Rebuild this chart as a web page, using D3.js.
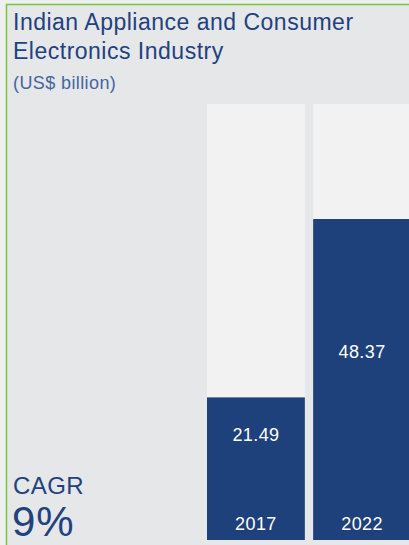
<!DOCTYPE html>
<html>
<head>
<meta charset="utf-8">
<script src="https://cdn.jsdelivr.net/npm/d3@7"></script>
<style>
  body { margin: 0; background: #eef0ef; }
  svg { display: block; font-family: "Liberation Sans", Arial, sans-serif; }
</style>
</head>
<body>
<svg id="chart"></svg>
<script>
// data
var years = ["2017", "2022"];
var values = [21.49, 48.37];
var titleLines = ["Indian Appliance and Consumer", "Electronics Industry"];
var unitLabel = "(US$ billion)";
var cagrLabel = "CAGR";
var cagrValue = "9%";
var yMax = 65.7;

var width = 409, height = 545;
var svg = d3.select("#chart")
    .attr("width", width)
    .attr("height", height);

// panel with green border on top and left
svg.append("rect")
    .attr("x", 6.5).attr("y", 4.5)
    .attr("width", width).attr("height", height)
    .style("fill", "#e6e7e9")
    .style("stroke", "#7dc242")
    .style("stroke-width", 1.5);

var x = d3.scaleBand()
    .domain(years)
    .range([207, 411])
    .paddingInner(0.078)
    .paddingOuter(0);
var y = d3.scaleLinear()
    .domain([0, yMax])
    .range([540, 104]);

// light background columns
svg.selectAll(".bg")
    .data(years)
    .enter()
    .append("rect")
    .attr("class", "bg")
    .attr("x", function (d) { return x(d); })
    .attr("y", y(yMax))
    .attr("width", x.bandwidth())
    .attr("height", y(0) - y(yMax))
    .style("fill", "#f2f2f2");

// value bars
svg.selectAll(".bar")
    .data(values)
    .enter()
    .append("rect")
    .attr("class", "bar")
    .attr("x", function (d, i) { return x(years[i]); })
    .attr("y", function (d) { return y(d); })
    .attr("width", x.bandwidth())
    .attr("height", function (d) { return y(0) - y(d); })
    .style("fill", "#1f417b");

svg.selectAll(".val")
    .data(values)
    .enter()
    .append("text")
    .attr("class", "val")
    .attr("x", function (d, i) { return x(years[i]) + x.bandwidth() / 2; })
    .attr("y", function (d) {
        var h = y(0) - y(d);
        return y(d) + 0.53 * h - 31.5;
    })
    .attr("text-anchor", "middle")
    .style("font-size", "18px")
    .style("letter-spacing", "0.4px")
    .style("fill", "#ffffff")
    .text(function (d) { return d.toFixed(2); });

svg.selectAll(".year")
    .data(years)
    .enter()
    .append("text")
    .attr("class", "year")
    .attr("x", function (d) { return x(d) + x.bandwidth() / 2; })
    .attr("y", 530)
    .attr("text-anchor", "middle")
    .style("font-size", "18px")
    .style("letter-spacing", "0.4px")
    .style("fill", "#ffffff")
    .text(function (d) { return d; });

// title
svg.selectAll(".title")
    .data(titleLines)
    .enter()
    .append("text")
    .attr("class", "title")
    .attr("x", 13)
    .attr("y", function (d, i) { return 30 + i * 28.5; })
    .style("font-size", "23px")
    .style("letter-spacing", "0.5px")
    .style("fill", "#21427f")
    .text(function (d) { return d; });

svg.append("text")
    .attr("x", 13).attr("y", 88.5)
    .style("font-size", "18px")
    .style("letter-spacing", "0.4px")
    .style("fill", "#4565a0")
    .text(unitLabel);

svg.append("text")
    .attr("x", 13).attr("y", 494)
    .style("font-size", "24px")
    .style("letter-spacing", "0.4px")
    .style("fill", "#21427f")
    .text(cagrLabel);

svg.append("text")
    .attr("x", 12).attr("y", 536)
    .style("font-size", "42px")
    .style("letter-spacing", "1px")
    .style("fill", "#21427f")
    .text(cagrValue);
</script>
</body>
</html>
